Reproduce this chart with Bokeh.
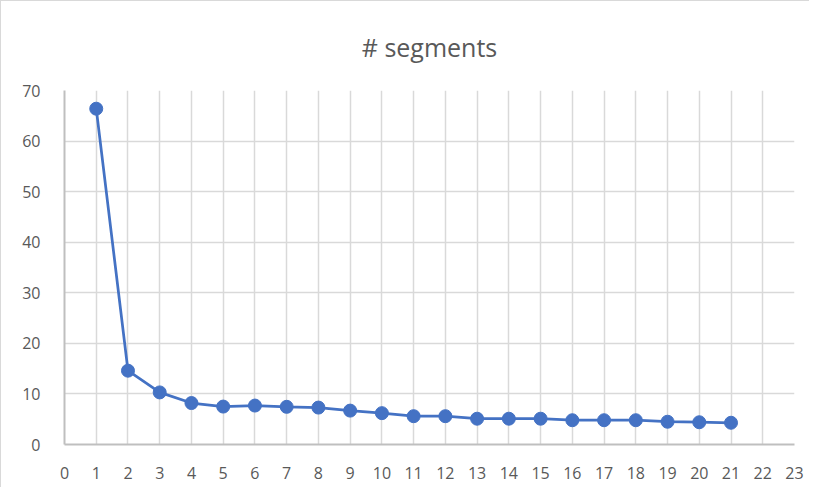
from bokeh.plotting import figure
from bokeh.embed import file_html
from bokeh.resources import INLINE
from bokeh.models import FixedTicker, Range1d

x_vals = list(range(1, 22))
segments = [66.4, 14.6, 10.3, 8.2, 7.5, 7.7, 7.45, 7.3, 6.7, 6.2, 5.6, 5.6,
            5.1, 5.1, 5.1, 4.8, 4.8, 4.8, 4.5, 4.4, 4.3]
x_ticks = list(range(0, 24))
y_ticks = list(range(0, 71, 10))

p = figure(width=809, height=487, output_backend="svg", toolbar_location=None,
           x_range=Range1d(0, 23), y_range=Range1d(0, 70),
           title="# segments", min_border_left=63, min_border_right=16,
           min_border_top=89, min_border_bottom=44)
p.styles = {"border-top": "1px solid #d9d9d9", "border-left": "1px solid #d9d9d9"}
p.title.align = "center"
p.title.vertical_align = "top"
p.title.text_font = "Open Sans"
p.title.text_font_style = "normal"
p.title.text_font_size = "25px"
p.title.text_color = "#595959"
p.title.standoff = 50
p.title.offset = 0

p.outline_line_color = None
for ax in (p.xaxis[0], p.yaxis[0]):
    ax.major_tick_line_color = None
    ax.minor_tick_line_color = None
    ax.major_label_text_font = "Open Sans"
    ax.major_label_text_font_size = "16px"
    ax.major_label_text_color = "#595959"
    ax.axis_line_color = "#bfbfbf"
    ax.axis_line_width = 2
p.xaxis.ticker = FixedTicker(ticks=x_ticks)
p.yaxis.ticker = FixedTicker(ticks=y_ticks)
p.xaxis.major_label_standoff = 16
p.yaxis.major_label_standoff = 18

p.xgrid.ticker = FixedTicker(ticks=x_ticks)
p.ygrid.ticker = FixedTicker(ticks=y_ticks)
p.grid.grid_line_color = "#d9d9d9"
p.grid.grid_line_width = 1.5

p.line(x_vals, segments, line_color="#4472c4", line_width=2.75)
p.scatter(x_vals, segments, size=13, fill_color="#4472c4", line_color="#4472c4")

open("out.html", "w").write(file_html(p, INLINE))
